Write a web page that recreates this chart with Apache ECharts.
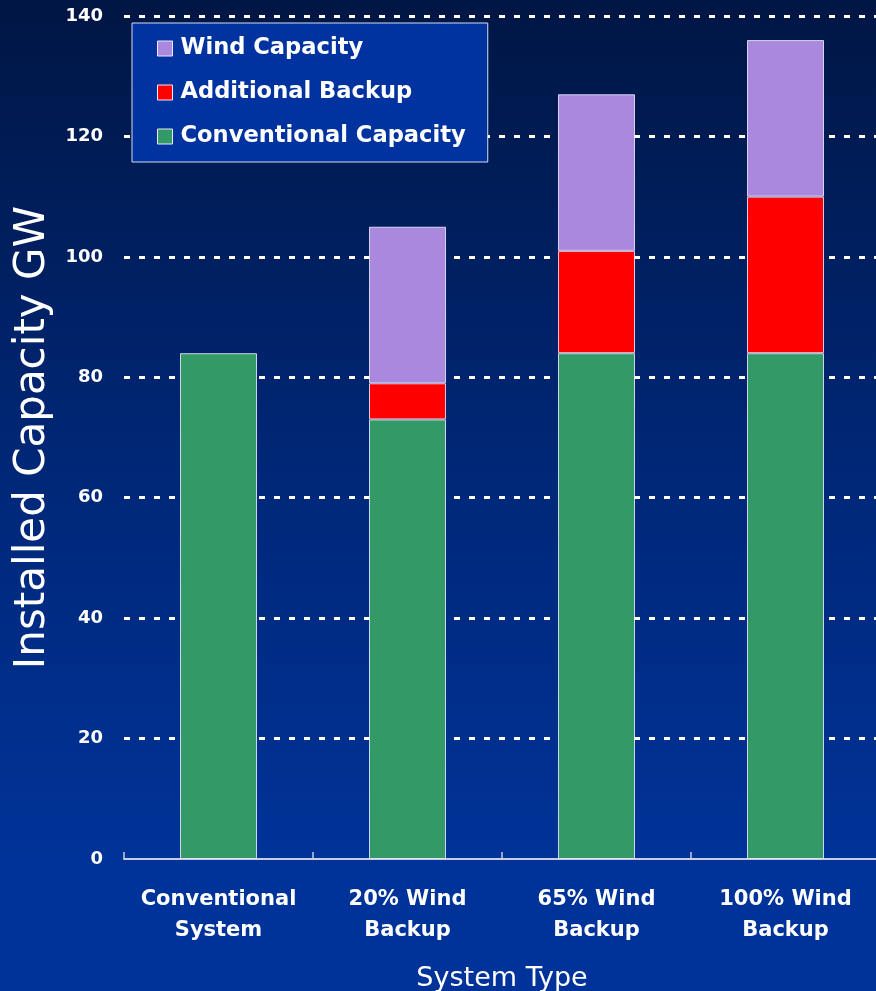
<!DOCTYPE html>
<html>
<head>
<meta charset="utf-8">
<title>Installed Capacity by System Type</title>
<script src="https://cdn.jsdelivr.net/npm/echarts@6/dist/echarts.min.js"></script>
<style>
  html, body { margin: 0; padding: 0; width: 876px; height: 991px; overflow: hidden; }
  #chart { width: 876px; height: 991px; }
</style>
</head>
<body>
<div id="chart"></div>
<script>
// Installed capacity (GW) per system type, stacked by source
const categories = ['Conventional\nSystem', '20% Wind\nBackup', '65% Wind\nBackup', '100% Wind\nBackup'];
const conventionalCapacity = [84, 73, 84, 84];
const additionalBackup = [0, 6, 17, 26];
const windCapacity = [0, 26, 26, 26];
const yTicks = { min: 0, max: 140, interval: 20 };

const FONT = '"DejaVu Sans", Verdana, sans-serif';
const edge = { borderColor: 'rgba(235,235,255,0.85)', borderWidth: 1 };

const chart = echarts.init(document.getElementById('chart'));
chart.setOption({
  backgroundColor: {
    type: 'linear', x: 0, y: 0, x2: 0, y2: 1,
    colorStops: [
      { offset: 0, color: '#001644' },
      { offset: 0.5, color: '#00287a' },
      { offset: 0.88, color: '#003399' },
      { offset: 1, color: '#003399' }
    ]
  },
  animation: false,
  textStyle: { fontFamily: FONT, color: '#ffffff' },
  legend: {
    orient: 'vertical',
    left: 132,
    top: 23,
    padding: [12, 22, 12, 25],
    backgroundColor: '#0033a0',
    borderColor: '#d8dcf0',
    borderWidth: 1,
    itemWidth: 15,
    itemHeight: 15,
    itemGap: 17,
    icon: 'rect',
    data: ['Wind Capacity', 'Additional Backup', 'Conventional Capacity'],
    itemStyle: { borderColor: '#e8e8ff', borderWidth: 1 },
    textStyle: { color: '#ffffff', fontSize: 22.6, fontWeight: 'bold', fontFamily: FONT, padding: [0, 0, 0, 3], lineHeight: 27 }
  },
  grid: { left: 124, top: 16, width: 756, height: 843, containLabel: false, outerBoundsMode: 'none' },
  xAxis: {
    type: 'category',
    data: categories,
    name: 'System Type',
    nameLocation: 'middle',
    nameGap: 106,
    nameTextStyle: { color: '#ffffff', fontSize: 27, fontFamily: FONT },
    axisLine: { show: true, lineStyle: { color: '#c8cce0', width: 2 } },
    axisTick: { show: true, inside: true, length: 7, lineStyle: { color: '#c8cce0', width: 1.5 } },
    axisLabel: { color: '#ffffff', fontSize: 21, fontWeight: 'bold', lineHeight: 31, margin: 25, fontFamily: FONT, interval: 0 },
    splitLine: { show: false }
  },
  yAxis: {
    type: 'value',
    min: yTicks.min,
    max: yTicks.max,
    interval: yTicks.interval,
    name: 'Installed Capacity GW',
    nameLocation: 'middle',
    nameGap: 70,
    nameRotate: 90,
    nameTextStyle: { color: '#ffffff', fontSize: 42, fontFamily: FONT },
    axisLine: { show: false },
    axisTick: { show: false },
    axisLabel: { color: '#ffffff', fontSize: 18, fontWeight: 'bold', margin: 21, fontFamily: FONT },
    splitLine: {
      show: true,
      showMinLine: false,
      lineStyle: { color: '#ffffff', width: 3, type: [6, 9] }
    }
  },
  series: [
    {
      name: 'Conventional Capacity', type: 'bar', stack: 'cap', barWidth: 77,
      itemStyle: Object.assign({ color: '#339966' }, edge),
      data: conventionalCapacity
    },
    {
      name: 'Additional Backup', type: 'bar', stack: 'cap', barWidth: 77,
      itemStyle: Object.assign({ color: '#ff0000' }, edge),
      data: additionalBackup.map(v => v === 0 ? '-' : v)
    },
    {
      name: 'Wind Capacity', type: 'bar', stack: 'cap', barWidth: 77,
      itemStyle: Object.assign({ color: '#aa88dd' }, edge),
      data: windCapacity.map(v => v === 0 ? '-' : v)
    }
  ]
});
</script>
</body>
</html>
